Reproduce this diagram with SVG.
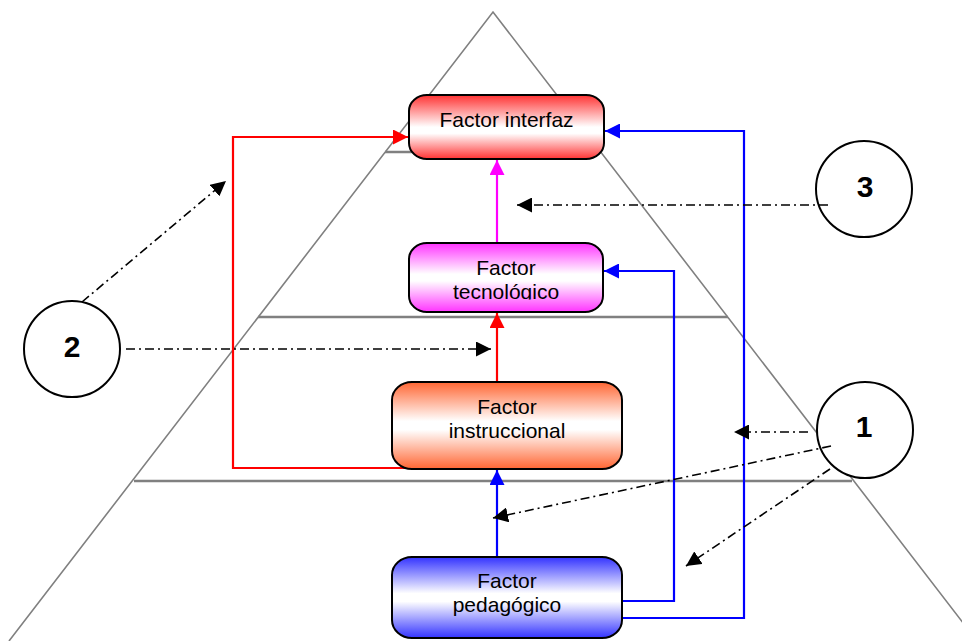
<svg xmlns="http://www.w3.org/2000/svg" width="962" height="641" viewBox="0 0 962 641">
<style>
.pyr{fill:none;stroke:#808080;stroke-width:1.6}
.lvl{stroke:#808080;stroke-width:2.6}
.box{stroke:#000;stroke-width:2}
.lbl{font-family:"Liberation Sans",Arial,sans-serif;font-size:21px;fill:#000;text-anchor:middle}
.num{font-family:"Liberation Sans",Arial,sans-serif;font-size:30px;font-weight:bold;fill:#000;text-anchor:middle}
.circ{fill:#fff;stroke:#000;stroke-width:2}
.dd{fill:none;stroke:#000;stroke-width:1.6;stroke-dasharray:9 4 2 4}
.c{fill:none;stroke-width:2.2}
</style>
<defs>
<linearGradient id="gRed" x1="0" y1="0" x2="0" y2="1">
<stop offset="0" stop-color="#ff3333"/><stop offset="0.5" stop-color="#ffffff"/><stop offset="0.6" stop-color="#ffffff"/><stop offset="1" stop-color="#ff3333"/>
</linearGradient>
<linearGradient id="gMag" x1="0" y1="0" x2="0" y2="1">
<stop offset="0" stop-color="#ff33ff"/><stop offset="0.45" stop-color="#ffffff"/><stop offset="0.55" stop-color="#ffffff"/><stop offset="1" stop-color="#ff33ff"/>
</linearGradient>
<linearGradient id="gOra" x1="0" y1="0" x2="0" y2="1">
<stop offset="0" stop-color="#ff6633"/><stop offset="0.45" stop-color="#ffffff"/><stop offset="0.55" stop-color="#ffffff"/><stop offset="1" stop-color="#ff6633"/>
</linearGradient>
<linearGradient id="gBlu" x1="0" y1="0" x2="0" y2="1">
<stop offset="0" stop-color="#3333ff"/><stop offset="0.45" stop-color="#ffffff"/><stop offset="0.55" stop-color="#ffffff"/><stop offset="1" stop-color="#3333ff"/>
</linearGradient>
<marker id="aRed" markerUnits="userSpaceOnUse" markerWidth="15" markerHeight="15" refX="15" refY="7.5" orient="auto"><path d="M0,0 L15,7.5 L0,15 z" fill="#ff0000"/></marker>
<marker id="aMag" markerUnits="userSpaceOnUse" markerWidth="15" markerHeight="15" refX="15" refY="7.5" orient="auto"><path d="M0,0 L15,7.5 L0,15 z" fill="#ff00ff"/></marker>
<marker id="aBlu" markerUnits="userSpaceOnUse" markerWidth="15" markerHeight="15" refX="15" refY="7.5" orient="auto"><path d="M0,0 L15,7.5 L0,15 z" fill="#0000ff"/></marker>
<marker id="aBlk" markerUnits="userSpaceOnUse" markerWidth="15" markerHeight="15" refX="15" refY="7.5" orient="auto"><path d="M0,0 L15,7.5 L0,15 z" fill="#000"/></marker>
<clipPath id="clipTec"><rect x="409" y="243" width="194" height="56.5"/></clipPath>
</defs>
<rect width="962" height="641" fill="#fff"/>
<g id="pyramid">
<polyline class="pyr" points="9,641 493,12 977,641"/>
<line class="lvl" x1="385" y1="152" x2="601" y2="152"/>
<line class="lvl" x1="258" y1="317" x2="728" y2="317"/>
<line class="lvl" x1="134" y1="481" x2="852" y2="481"/>
</g>
<g id="connectors">
<line class="c" stroke="#ff00ff" x1="497" y1="243" x2="497" y2="160" marker-end="url(#aMag)"/>
<line class="c" stroke="#ff0000" x1="497" y1="382" x2="497" y2="313" marker-end="url(#aRed)"/>
<line class="c" stroke="#0000ff" x1="497" y1="557" x2="497" y2="470" marker-end="url(#aBlu)"/>
<polyline class="c" stroke="#ff0000" points="409,468 233,468 233,137 408,137" marker-end="url(#aRed)"/>
<polyline class="c" stroke="#0000ff" points="622,601 674,601 674,271 604,271" marker-end="url(#aBlu)"/>
<polyline class="c" stroke="#0000ff" points="622,618 744,618 744,131 605,131" marker-end="url(#aBlu)"/>
</g>
<g id="n-interfaz">
<rect class="box" x="409" y="95" width="195" height="64" rx="18" ry="16" fill="url(#gRed)"/>
<text class="lbl" x="506.5" y="127">Factor interfaz</text>
</g>
<g id="n-tecnologico">
<rect class="box" x="409" y="243" width="194" height="69" rx="18" ry="16" fill="url(#gMag)"/>
<g clip-path="url(#clipTec)">
<text class="lbl" x="506" y="275">Factor</text>
<text class="lbl" x="506" y="299">tecnológico</text>
</g>
</g>
<g id="n-instruccional">
<rect class="box" x="392" y="382" width="230" height="87" rx="20" ry="18" fill="url(#gOra)"/>
<text class="lbl" x="507" y="414">Factor</text>
<text class="lbl" x="507" y="438">instruccional</text>
</g>
<g id="n-pedagogico">
<rect class="box" x="392" y="557" width="230" height="81" rx="20" ry="18" fill="url(#gBlu)"/>
<text class="lbl" x="507" y="588">Factor</text>
<text class="lbl" x="507" y="612">pedagógico</text>
</g>
<g id="c3">
<circle class="circ" cx="864" cy="189" r="48"/>
<text class="num" x="865" y="197">3</text>
</g>
<g id="c2">
<circle class="circ" cx="72" cy="349" r="48"/>
<text class="num" x="72" y="357">2</text>
</g>
<g id="c1">
<circle class="circ" cx="865" cy="430" r="48"/>
<text class="num" x="864" y="437">1</text>
</g>
<g id="pointers">
<line class="dd" x1="828" y1="205" x2="517" y2="205" marker-end="url(#aBlk)"/>
<line class="dd" x1="82" y1="302" x2="226" y2="181" marker-end="url(#aBlk)"/>
<line class="dd" x1="126" y1="349" x2="491" y2="349" marker-end="url(#aBlk)"/>
<line class="dd" x1="808" y1="432" x2="734" y2="432" marker-end="url(#aBlk)"/>
<line class="dd" x1="831" y1="446" x2="493" y2="518" marker-end="url(#aBlk)"/>
<line class="dd" x1="830" y1="469" x2="686" y2="566" marker-end="url(#aBlk)"/>
</g>
</svg>
